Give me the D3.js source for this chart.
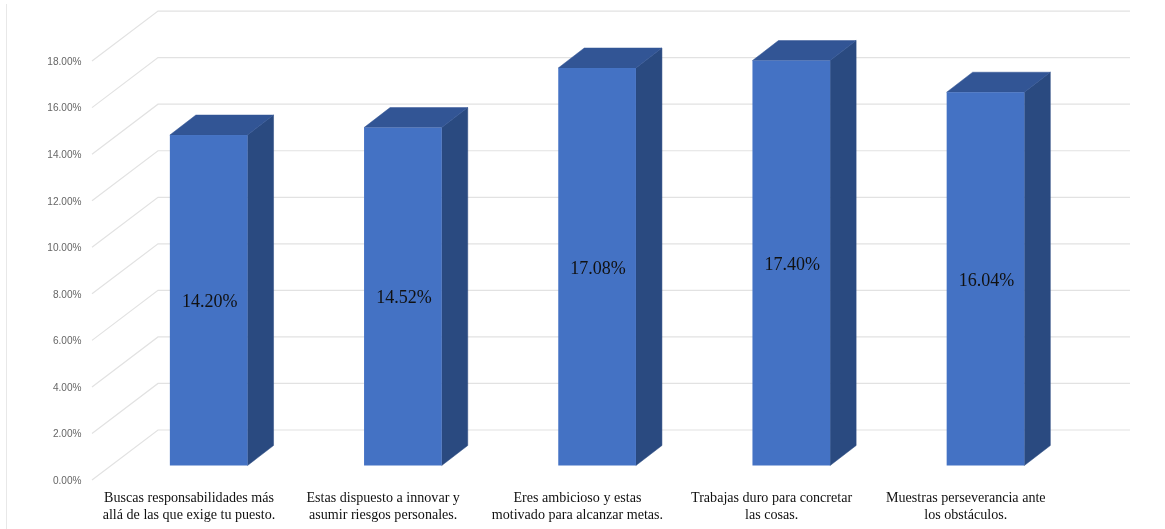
<!DOCTYPE html>
<html><head><meta charset="utf-8">
<script src="https://cdn.jsdelivr.net/npm/d3@7/dist/d3.min.js"></script>
<style>html,body{margin:0;padding:0;background:#fff}svg{display:block;filter:blur(0.45px)}</style>
</head><body><div id="chart"></div>
<script>
const categories = [
  ["Buscas responsabilidades más","allá de las que exige tu puesto."],
  ["Estas dispuesto a innovar y","asumir riesgos personales."],
  ["Eres ambicioso y estas","motivado para alcanzar metas."],
  ["Trabajas duro para concretar","las cosas."],
  ["Muestras perseverancia ante","los obstáculos."]
];
const values = [14.20, 14.52, 17.08, 17.40, 16.04];
const valueLabels = ["14.20%","14.52%","17.08%","17.40%","16.04%"];
const tickValues = [0,2,4,6,8,10,12,14,16,18];

const W=1165,H=529;
const svg=d3.select("#chart").append("svg").attr("width",W).attr("height",H);
const g=svg.append("g");

const y=d3.scaleLinear().domain([0,18]).range([465.5,46.6]);
const x=d3.scaleBand().domain(d3.range(values.length)).range([111.6,1082.6]).paddingInner(0.6).paddingOuter(0.3);
const barDx=26, barDy=20, wallDy=50;
const backY=v=>y(v)-35.5;
const frontY=v=>backY(v)+wallDy;
const backX=158, frontX=92, rightX=1130;

g.append("line").attr("x1",6.5).attr("x2",6.5).attr("y1",4).attr("y2",529).attr("stroke","#e8e8e8").attr("stroke-width",1);

const grid=g.append("g").attr("fill","none").attr("stroke","#e2e2e2").attr("stroke-width",1.2);
grid.selectAll("path").data(tickValues).join("path")
  .attr("d",v=>d3.line()([[frontX,frontY(v)],[backX,backY(v)],[rightX,backY(v)]]));

g.append("g").selectAll("text").data(tickValues).join("text")
  .attr("x",81.5).attr("y",v=>frontY(v)+3.8).attr("text-anchor","end")
  .attr("font-family","'Liberation Sans', Arial, sans-serif").attr("font-size",10.1).attr("fill","#666")
  .text(v=>v.toFixed(2)+"%");

const bars=g.append("g").selectAll("g").data(values).join("g");
const line=d3.line();
bars.append("path").attr("fill","#2a4a80").attr("stroke","#2a4a80").attr("stroke-width",.5)
  .attr("d",(d,i)=>{const r=x(i)+x.bandwidth();return line([[r,y(d)],[r+barDx,y(d)-barDy],[r+barDx,y(0)-barDy],[r,y(0)]])+"Z";});
bars.append("path").attr("fill","#325595").attr("stroke","#325595").attr("stroke-width",.5)
  .attr("d",(d,i)=>{const l=x(i),r=l+x.bandwidth();return line([[l,y(d)],[l+barDx,y(d)-barDy],[r+barDx,y(d)-barDy],[r,y(d)]])+"Z";});
bars.append("rect").attr("fill","#4472c4").attr("x",(d,i)=>x(i)).attr("width",x.bandwidth())
  .attr("y",d=>y(d)).attr("height",d=>y(0)-y(d));

g.append("g").selectAll("text").data(values).join("text")
  .attr("x",(d,i)=>x(i)+x.bandwidth()/2+1).attr("y",d=>(y(d)+y(0))/2+6.8)
  .attr("text-anchor","middle").attr("font-family","'Liberation Serif','Times New Roman',serif").attr("font-size",18).attr("fill","#111")
  .text((d,i)=>valueLabels[i]);

const cat=g.append("g").selectAll("text").data(categories).join("text")
  .attr("text-anchor","middle").attr("font-family","'Liberation Serif','Times New Roman',serif").attr("font-size",14.1).attr("fill","#111");
cat.selectAll("tspan").data((d,i)=>d.map(t=>({t,i}))).join("tspan")
  .attr("x",d=>x(d.i)+x.bandwidth()/2-19.7).attr("y",(d,j)=>501.5+j*17.5).text(d=>d.t);
</script></body></html>
